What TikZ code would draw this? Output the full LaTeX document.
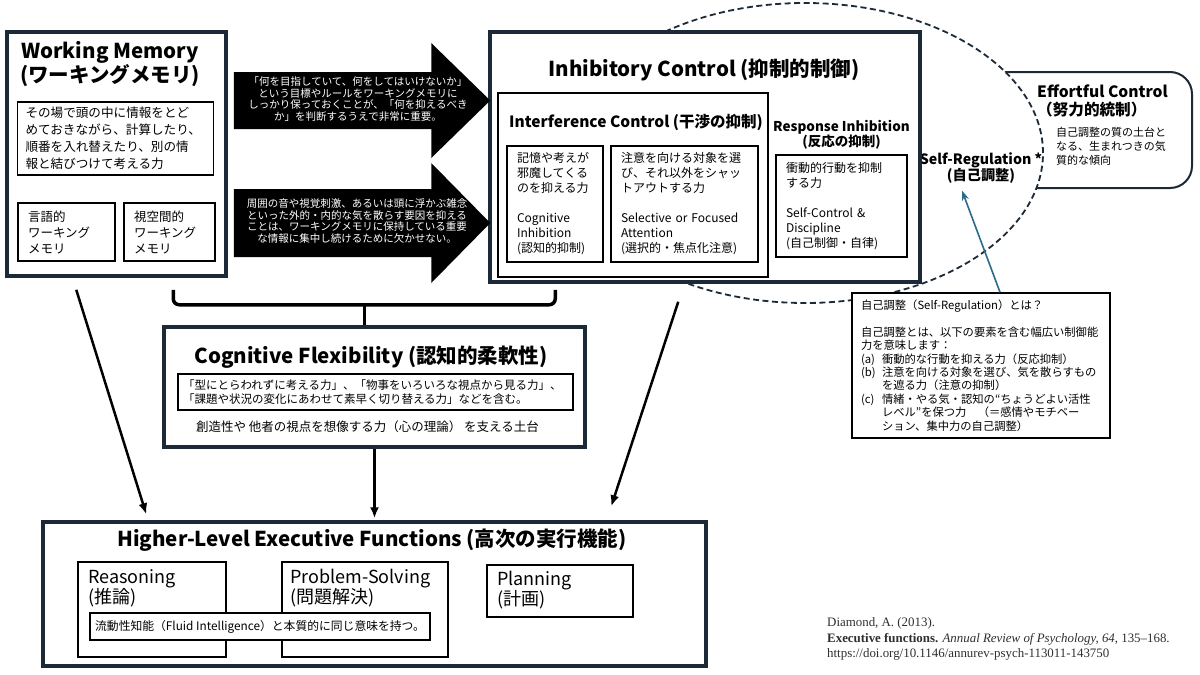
\documentclass[tikz,border=0pt]{standalone}
\usepackage{fontspec}
\setmainfont{Noto Sans CJK JP}
\newfontfamily\citefont{Liberation Serif}
\usetikzlibrary{arrows.meta,shapes.geometric,calc}
\definecolor{navy}{HTML}{1C2A38}
\definecolor{regblue}{HTML}{2B6A88}
\definecolor{citegray}{HTML}{2F2F2F}
\newcommand{\itemlbl}[1]{\makebox[21pt][l]{#1}}
\tikzset{
  mainbox/.style={draw=navy,line width=3.5pt,fill=white,inner sep=0pt},
  groupbox/.style={draw=black,line width=2pt,fill=white,inner sep=0pt},
  subbox/.style={draw=black,line width=1.5pt,fill=white,inner xsep=10pt,inner ysep=0pt,align=left},
  heading/.style={font=\bfseries\fontsize{20.5}{24}\selectfont,inner sep=0pt,align=center},
  subheading/.style={font=\bfseries\fontsize{13.5}{15}\selectfont,inner sep=0pt,align=center},
  boxtext/.style={font=\fontsize{12}{15}\selectfont},
  hllabel/.style={font=\fontsize{18}{20}\selectfont,inner sep=0pt,align=left,anchor=west},
  arrowtext/.style={text=white,font=\fontsize{10.5}{11.4}\selectfont,inner sep=0pt,align=center},
  flow/.style={line width=2.5pt,-{Latex[length=11pt,width=9pt]}},
  bracket/.style={line width=3.5pt,rounded corners=6pt},
  regarea/.style={ellipse,draw=navy,line width=1.8pt,dash pattern=on 6pt off 3.5pt,fill=white,inner sep=0pt},
  effbox/.style={draw=navy,line width=2pt,rounded corners=22pt,fill=white},
  regarrow/.style={draw=regblue,line width=1.6pt,-{Stealth[length=10pt,width=7pt]}},
  citetext/.style={font=\citefont\fontsize{12.9}{15.5}\selectfont,text=citegray,inner sep=0pt,align=left,anchor=west}
}
\begin{document}
\begin{tikzpicture}[x=1pt,y=-1pt]
  \fill[white] (0,0) rectangle (1200,675);
  \useasboundingbox (0,0) rectangle (1200,675);

  \node[effbox,minimum width=292pt,minimum height=116pt] (effort) at (1046,130) {};
  \node[regarea,minimum width=476pt,minimum height=300pt] (selfregarea) at (805,153) {};
  \node[font=\bfseries\fontsize{15.6}{18}\selectfont,inner sep=0pt,align=left,anchor=west] (efftitle) at (1037,101)
    {Effortful Control\\（努力的統制）};
  \node[font=\fontsize{11}{14}\selectfont,inner sep=0pt,align=left,anchor=west] (efftext) at (1056,146)
    {自己調整の質の土台と\\なる、生まれつきの気\\質的な傾向};
  \node[font=\bfseries\fontsize{14.2}{16}\selectfont,inner sep=0pt,align=center] (selfreg) at (981,168)
    {Self-Regulation *\\(自己調整)};

  \node[mainbox,minimum width=219pt,minimum height=244pt] (wm) at (116.5,154) {};
  \node[heading] (wmtitle) at (110,64) {Working Memory\\(ワーキングメモリ)};
  \node[subbox,inner xsep=8pt,text width=180pt,minimum height=73pt,font=\fontsize{12.6}{17}\selectfont] (wmdesc) at (115.5,138.5)
    {その場で頭の中に情報をとど\\めておきながら、計算したり、\\順番を入れ替えたり、別の情\\報と結びつけて考える力};
  \node[subbox,text width=77pt,minimum height=58pt,font=\fontsize{12.5}{16}\selectfont] (wmverbal) at (66.5,232)
    {言語的\\ワーキング\\メモリ};
  \node[subbox,text width=71pt,minimum height=58pt,font=\fontsize{12.5}{16}\selectfont] (wmspatial) at (169.5,232)
    {視空間的\\ワーキング\\メモリ};

  \node[mainbox,minimum width=430pt,minimum height=250pt] (ic) at (705,157) {};
  \node[heading] (ictitle) at (704,70) {Inhibitory Control (抑制的制御)};
  \node[groupbox,minimum width=270pt,minimum height=184pt] (interf) at (633,185) {};
  \node[subheading,font=\bfseries\fontsize{15.5}{18}\selectfont] (interftitle) at (636,122) {Interference Control (干渉の抑制)};
  \node[subbox,boxtext,text width=76pt,minimum height=116pt] (coginh) at (555,204)
    {記憶や考えが\\邪魔してくる\\のを抑える力\\[15pt]Cognitive\\Inhibition\\(認知的抑制)};
  \node[subbox,boxtext,text width=127pt,minimum height=116pt] (selective) at (684.5,204)
    {注意を向ける対象を選\\び、それ以外をシャッ\\トアウトする力\\[15pt]Selective or Focused\\Attention\\(選択的・焦点化注意)};
  \node[subheading] (resptitle) at (841.5,134.5) {Response Inhibition\\(反応の抑制)};
  \node[subbox,boxtext,text width=111pt,minimum height=102pt] (respbox) at (841.5,206)
    {衝動的行動を抑制\\する力\\[15pt]Self-Control \&\\Discipline\\(自己制御・自律)};

  \coordinate (tailA) at ([xshift=6pt,yshift=53.5pt]wm.east);
  \coordinate (tipA) at ([xshift=2pt]ic.west |- tailA);
  \coordinate (tailB) at ([xshift=6pt,yshift=-69pt]wm.east);
  \coordinate (tipB) at ([xshift=2pt]ic.west |- tailB);
  \foreach \n/\bh/\hh in {A/28.5/57.5,B/34/60}{
    \fill (tail\n) ++(0,-\bh) -| ($(tip\n)+(-59,-\hh)$) -- (tip\n) -- ++(-59,\hh) |- ($(tail\n)+(0,\bh)$) -- cycle;
  }
  \node[arrowtext] (arrA) at (358,99)
    {「何を目指していて、何をしてはいけないか」\\という目標やルールをワーキングメモリに\\しっかり保っておくことが、「何を抑えるべき\\か」を判断するうえで非常に重要。};
  \node[arrowtext] (arrB) at (357,221)
    {周囲の音や視覚刺激、あるいは頭に浮かぶ雑念\\といった外的・内的な気を散らす要因を抑える\\ことは、ワーキングメモリに保持している重要\\な情報に集中し続けるために欠かせない。};

  \node[subbox,inner xsep=9pt,text width=240pt,minimum height=145pt,font=\fontsize{11.3}{13.4}\selectfont] (selfnote) at (981,365.5)
    {自己調整（Self-Regulation）とは？\\[13.4pt]自己調整とは、以下の要素を含む幅広い制御能\\力を意味します：\\\itemlbl{(a)}衝動的な行動を抑える力（反応抑制）\\\itemlbl{(b)}注意を向ける対象を選び、気を散らすもの\\\hspace*{21pt}を遮る力（注意の抑制）\\\itemlbl{(c)}情緒・やる気・認知の“ちょうどよい活性\\\hspace*{21pt}レベル”を保つ力　（＝感情やモチベー\\\hspace*{21pt}ション、集中力の自己調整）};
  \draw[regarrow] ([xshift=19pt]selfnote.north) -- ([xshift=-19pt,yshift=-7pt]selfreg.south);

  \node[mainbox,minimum width=421pt,minimum height=120pt] (cf) at (374.5,387) {};
  \node[heading] (cftitle) at (371,357) {Cognitive Flexibility (認知的柔軟性)};
  \node[subbox,inner xsep=5pt,text width=385pt,minimum height=36pt,font=\fontsize{11.5}{14}\selectfont] (cfbox) at (375.5,392)
    {「型にとらわれずに考える力」、「物事をいろいろな視点から見る力」、\\「課題や状況の変化にあわせて素早く切り替える力」などを含む。};
  \node[font=\fontsize{12.5}{15}\selectfont,inner sep=0pt] (cfbase) at (367.5,427) {創造性や 他者の視点を想像する力（心の理論） を支える土台};

  \coordinate (brL) at ([xshift=168pt,yshift=-12pt]wm.south west);
  \coordinate (brR) at ([xshift=67pt,yshift=-6pt]ic.south west);
  \draw[bracket] (brL) -- ++(0,15) -| (brR);
  \draw[bracket] ($(brL)!0.5!(brR)+(0,15)$) coordinate (brM) -- (brM |- cf.north);

  \node[mainbox,minimum width=663pt,minimum height=144pt] (hlef) at (374.5,594) {};
  \node[heading] (hleftitle) at (372,540) {Higher-Level Executive Functions (高次の実行機能)};
  \node[subbox,minimum width=148pt,minimum height=95pt] (reason) at (152,609.5) {};
  \node[subbox,minimum width=166pt,minimum height=95pt] (probsolve) at (365,609.5) {};
  \node[subbox,minimum width=146pt,minimum height=52pt] (planning) at (560,591) {};
  \node[hllabel] (reasonlbl) at (88,588) {Reasoning\\(推論)};
  \node[hllabel] (probsolvelbl) at (290,588) {Problem-Solving\\(問題解決)};
  \node[hllabel] (planninglbl) at (497,590) {Planning\\(計画)};
  \node[subbox,inner xsep=0pt,minimum width=340pt,minimum height=27pt,align=center,font=\fontsize{11.8}{13}\selectfont] (fluid) at (260,626.5)
    {流動性知能（Fluid Intelligence）と本質的に同じ意味を持つ。};

  \draw[flow] ([xshift=71pt,yshift=-12pt]wm.south west) -- ([xshift=105pt,yshift=6pt]hlef.north west);
  \draw[flow] (cf.south) -- ([yshift=2pt]cf.south |- hlef.north);
  \draw[flow] ([xshift=190pt,yshift=-18pt]ic.south west) -- ([xshift=570pt,yshift=14pt]hlef.north west);

  \node[citetext] (cite) at (827,639)
    {Diamond, A. (2013).\\\textbf{Executive functions.} \textit{Annual Review of Psychology, 64}, 135–168.\\https://doi.org/10.1146/annurev-psych-113011-143750};
\end{tikzpicture}
\end{document}
